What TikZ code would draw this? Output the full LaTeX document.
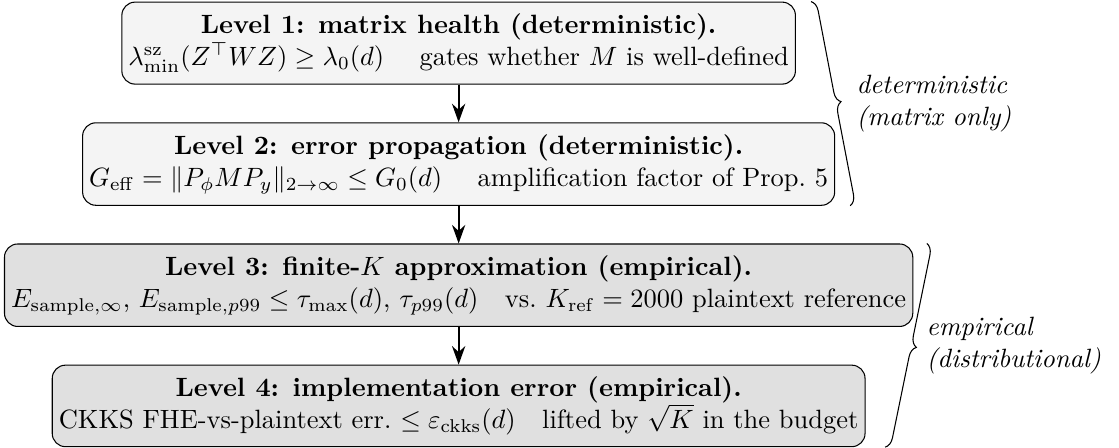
\documentclass[tikz,border=0pt]{standalone}
\usepackage{amsmath,amssymb}
\usetikzlibrary{arrows.meta, positioning, calc, decorations.pathreplacing}
\definecolor{cDet}{RGB}{244,244,244}
\definecolor{cEmp}{RGB}{224,224,224}
\tikzset{
  lvlbox/.style={rectangle, rounded corners=5pt, draw=black, align=center,
                 inner xsep=2.5pt, inner ysep=4.4pt},
  detbox/.style={lvlbox, fill=cDet},
  empbox/.style={lvlbox, fill=cEmp},
  flowarrow/.style={-{Stealth[length=7pt, width=5pt]}, thick},
  grpbrace/.style={decorate, decoration={brace, amplitude=4pt}},
  grplabel/.style={align=left, font=\itshape, anchor=west}
}
\begin{document}
\begin{tikzpicture}[node distance=0.5cm]

  % levels
  \node[detbox] (lvlone)
      {\textbf{Level 1: matrix health (deterministic).}\\
       $\lambda^{\mathrm{sz}}_{\min}(Z^{\top}WZ)\ge\lambda_0(d)$ \quad gates whether $M$ is well-defined};

  \node[detbox, below=of lvlone] (lvltwo)
      {\textbf{Level 2: error propagation (deterministic).}\\
       $G_{\mathrm{eff}}=\|P_\phi M P_y\|_{2\to\infty}\le G_0(d)$ \quad amplification factor of Prop.~5};

  \node[empbox, below=of lvltwo] (lvlthree)
      {\textbf{Level 3: finite-$K$ approximation (empirical).}\\
       $E_{\mathrm{sample},\infty}$, $E_{\mathrm{sample},p99}\le\tau_{\max}(d)$, $\tau_{p99}(d)$\quad vs.\ $K_{\mathrm{ref}}=2000$ plaintext reference};

  \node[empbox, below=of lvlthree] (lvlfour)
      {\textbf{Level 4: implementation error (empirical).}\\
       CKKS FHE-vs-plaintext err.\ $\le\varepsilon_{\mathrm{ckks}}(d)$\quad lifted by $\sqrt{K}$ in the budget};

  % arrows
  \draw[flowarrow] (lvlone) -- (lvltwo);
  \draw[flowarrow] (lvltwo) -- (lvlthree);
  \draw[flowarrow] (lvlthree) -- (lvlfour);

  % frame with the reference proportions
  \useasboundingbox let \p1=(lvlthree.west), \p2=(lvlone.north), \p3=(lvlfour.south) in
      (\x1-1.5pt,\y2+0.6pt) rectangle ({\x1-1.5pt+2.4978*(\y2-\y3+0.9pt)},\y3-0.3pt);

  % braces
  \draw[grpbrace] ($(lvlone.north east)+(0.2,0)$) -- ($(lvltwo.south east)+(0.2,0)$)
      coordinate[midway, xshift=0.22cm] (dettip);
  \node[grplabel] (detlbl) at (dettip) {deterministic\\(matrix only)};
  \draw[grpbrace] ($(lvlthree.north east)+(0.18,0)$) -- ($(lvlfour.south east)+(0.26,0)$)
      coordinate[midway, xshift=0.15cm] (emptip);
  \node[grplabel] (emplbl) at (emptip) {empirical\\(distributional)};

\end{tikzpicture}
\end{document}
